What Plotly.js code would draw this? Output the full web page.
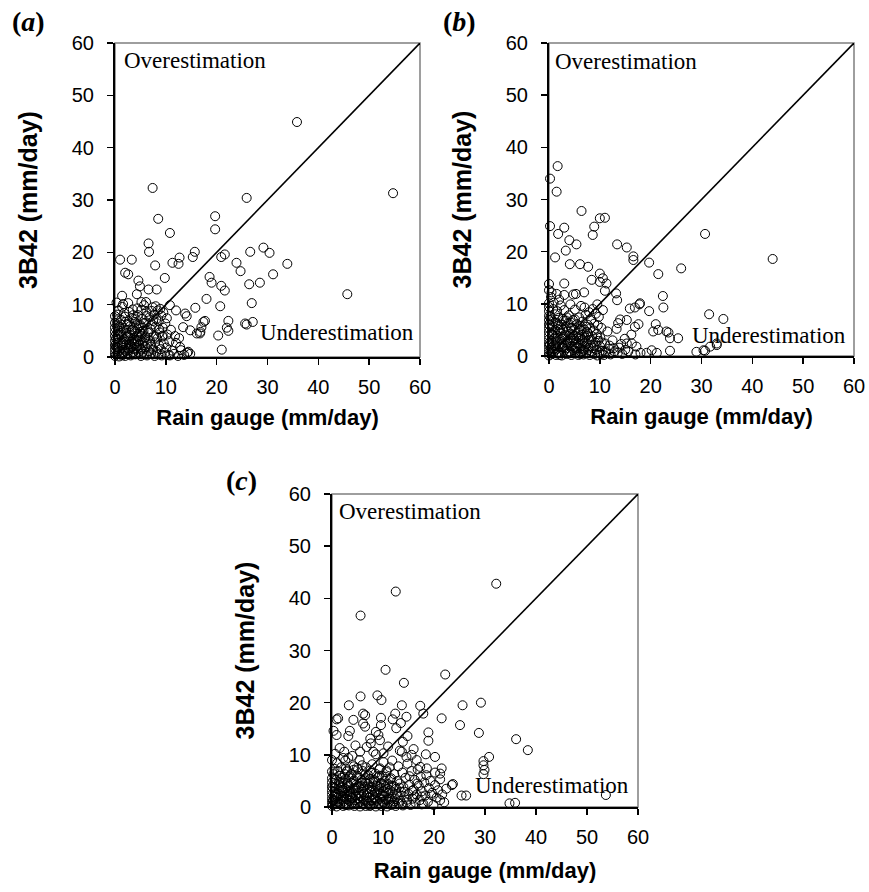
<!DOCTYPE html>
<html>
<head>
<meta charset="utf-8">
<script src="https://cdn.plot.ly/plotly-3.0.1.min.js"></script>
<style>html,body{margin:0;padding:0;background:#fff;}#chart{width:869px;height:892px;}</style>
</head>
<body>
<div id="chart"></div>
<script>
// ---------- DATA ----------
const tickValues = [0, 10, 20, 30, 40, 50, 60];
const axisRange = [0, 60];
const lineX = [0, 60];
const lineY = [0, 60];
const panelLabels = ["a", "b", "c"];
const xTitle = "Rain gauge (mm/day)";
const yTitle = "3B42 (mm/day)";
const overText = "Overestimation";
const underText = "Underestimation";

// Panel (a): rain gauge (x) vs 3B42 (y)
const gaugeA = [
 7.4,25.9,8.5,19.7,19.7,10.8,6.6,6.7,15.7,15.3,
 12.7,12.5,11.3,7.9,1.0,3.3,20.9,21.6,23.9,24.7,
 26.6,29.2,30.4,33.9,31.1,28.5,26.4,26.9,18.6,19.0,
 20.9,21.6,18.0,20.7,15.8,9.8,8.2,6.6,4.6,4.9,
 4.3,2.0,2.6,1.4,0.3,1.6,5.2,6.1,10.8,12.0,
 13.8,14.1,17.7,22.3,22.0,22.3,25.6,25.9,27.1,20.3,
 21.0,17.0,16.1,14.8,16.7,13.4,14.8,14.4,12.8,10.8,
 54.7,45.7,35.8,17.4,16.8,
 0,0,0,0,0,0,0,0,0,0,
 0.3,0.4,0.5,0.6,0.4,0.8,0.9,1.0,1.1,1.2,
 1.3,1.5,1.6,1.7,1.8,2.0,2.1,2.2,2.3,2.4,
 2.5,2.7,2.8,2.9,3.0,3.1,3.2,3.3,3.4,3.5,
 3.6,3.7,3.8,3.9,4.0,4.1,4.2,4.3,4.4,4.5,
 4.6,4.8,4.9,5.0,5.1,5.2,5.3,5.4,5.5,5.6,
 5.8,5.9,6.0,6.1,6.2,6.3,6.4,6.5,6.7,6.8,
 6.9,7.0,7.1,7.2,7.3,7.4,7.5,7.6,7.7,7.8,
 7.9,8.0,8.1,8.2,8.3,8.4,8.5,8.6,8.7,8.8,
 8.9,9.0,9.1,9.2,9.3,9.4,9.5,9.6,9.8,9.9,
 10.1,10.3,10.5,10.7,11.0,11.3,11.6,12.0,12.4,13.0,
 13.6,14.2,11.8,12.6,10.2,1.4,0.7,2.6,5.7,8.0
];
const satA = [
 32.3,30.4,26.4,26.9,24.4,23.7,21.7,20.1,20.1,19.1,
 19.0,17.8,18.0,17.5,18.6,18.6,19.1,19.6,18.0,16.4,
 20.1,20.9,19.9,17.8,15.8,14.2,13.9,10.3,15.3,14.2,
 13.6,12.7,11.1,9.7,9.4,15.1,12.9,12.9,14.6,13.5,
 12.0,16.1,15.8,11.7,10.4,10.1,10.5,10.5,9.9,8.9,
 8.3,7.8,6.9,6.9,5.6,5.0,6.4,6.2,6.7,4.1,
 1.4,5.7,4.5,5.1,4.5,5.7,0.6,1.0,1.9,0.3,
 31.3,12.0,44.9,6.7,4.8,
 0.2,0.8,1.5,2.3,3.1,4.0,4.8,5.6,6.5,7.8,
 0.5,1.9,3.4,5.1,6.0,0.1,1.2,2.6,4.2,7.1,
 0.6,1.8,3.0,5.5,8.4,0.2,1.1,2.4,3.8,6.3,
 0.7,1.6,3.2,4.6,5.9,0.3,2.0,2.9,7.4,9.1,
 1.0,3.6,4.9,6.7,0.5,1.7,2.6,4.1,5.4,8.0,
 0.9,2.2,3.3,6.1,0.2,1.4,4.4,7.3,2.8,5.0,
 0.6,3.7,1.9,6.6,8.6,0.3,2.5,4.6,1.1,7.6,
 3.1,5.3,0.7,2.0,6.2,9.5,1.4,4.0,8.1,0.2,
 2.8,5.8,7.2,1.0,3.5,8.9,0.5,6.8,2.2,4.7,
 9.2,1.5,7.9,0.3,3.9,5.6,8.5,2.6,0.8,6.4,
 1.8,4.3,0.4,3.0,5.2,1.2,0.6,2.7,0.2,1.3,
 0.4,0.8,4.0,3.6,7.4,9.6,8.9,10.3,9.9,9.7
];
// Panel (a): dense core near the origin
const gaugeCoreA = [
 0.2,0.6,1.0,1.4,1.8,2.2,2.6,3.0,3.4,3.8,
 4.2,4.6,5.0,5.4,5.8,0.1,0.5,0.9,1.3,1.7,
 2.1,2.5,2.9,3.3,3.7,4.1,4.5,4.9,5.3,5.7,
 0.3,0.7,1.1,1.5,1.9,2.3,2.7,3.1,3.5,3.9,
 4.3,4.7,5.1,5.5,6.0,6.6,7.0,7.5,8.1,8.7,
 0.4,1.2,2.0,2.8,3.6,4.4,5.2,6.2,7.2,9.4
];
const satCoreA = [
 3.5,2.7,4.6,0.3,3.4,5.2,1.2,4.1,0.9,2.4,
 6.1,3.9,1.6,5.6,3.1,2.0,4.3,5.8,2.2,0.9,
 6.7,3.9,2.4,5.1,1.5,7.2,3.0,4.8,0.7,6.5,
 7.0,3.9,5.0,2.7,1.4,4.5,6.8,1.7,5.3,3.2,
 2.0,6.0,4.0,1.0,3.8,4.9,2.4,6.9,3.9,5.3,
 8.1,6.2,7.7,8.6,8.0,9.3,9.0,7.9,8.8,4.1
];

// Panel (b)
const gaugeB = [
 1.7,0.2,1.5,6.4,10.0,11.0,8.9,8.6,0.2,3.0,
 1.8,4.0,5.4,3.3,1.2,4.1,6.1,7.7,13.4,15.3,
 16.6,16.6,19.7,21.5,26.0,30.7,10.0,10.6,11.3,10.0,
 8.4,3.0,0,0,0.5,1.5,3.0,4.8,5.3,6.9,
 11.0,13.2,13.4,22.4,22.5,17.9,15.9,16.9,19.7,0,
 0.9,9.5,14.0,13.6,21.0,23.1,23.8,25.4,30.4,29.0,
 23.8,21.2,19.2,17.2,15.3,44.0,31.5,34.3,23.5,33.0,
 31.7,33.0,30.7,16.3,18.0,20.2,21.5,20.5,17.6,16.9,
 15.3,17.8,
 0,0,0,0,0,0,0,0,0,0,
 0,0,0,0,0.3,0.4,0.5,0.6,0.7,0.5,
 0.9,1.0,1.1,1.2,1.3,1.4,1.5,1.6,1.7,1.8,
 1.9,2.0,2.1,2.2,2.3,2.4,2.5,2.6,2.7,2.8,
 2.9,3.0,3.1,3.2,3.3,3.4,3.5,3.6,3.7,3.8,
 3.9,4.0,4.1,4.2,4.3,4.4,4.5,4.6,4.7,4.8,
 4.9,5.0,5.2,5.3,5.4,5.5,5.6,5.7,5.8,5.9,
 6.0,6.1,6.2,6.3,6.4,6.5,6.6,6.7,6.8,6.9,
 7.0,7.1,7.2,7.3,7.4,7.5,7.6,7.7,7.8,7.9,
 8.0,8.1,8.2,8.3,8.4,8.5,8.6,8.7,8.8,8.9,
 9.0,9.1,9.2,9.3,9.4,9.5,9.6,9.7,9.8,9.9,
 10.0,10.1,10.2,10.3,10.5,10.6,10.8,11.0,11.2,11.5,
 11.8,12.1,12.5,12.9,13.3,13.8,14.4,14.9,15.6,16.2,
 0.8,1.6,2.3,3.0,4.2,5.1,6.3,7.0,0.4,2.0
];
const satB = [
 36.4,34.0,31.5,27.8,26.4,26.5,24.8,23.2,24.9,24.6,
 23.4,22.2,21.4,20.2,18.9,17.6,17.6,17.1,21.4,20.8,
 19.1,18.4,17.9,15.7,16.8,23.4,15.8,14.9,13.9,14.2,
 14.6,13.9,13.8,12.6,12.2,11.9,11.7,11.8,11.9,12.2,
 12.5,12.0,10.7,11.5,9.3,10.1,9.1,9.3,8.6,10.1,
 10.2,9.9,7.0,6.3,6.1,4.7,3.4,3.4,1.1,0.8,
 1.0,0.6,0.6,1.8,2.4,18.6,8.0,7.1,4.5,2.1,
 1.8,2.4,1.0,2.4,0.6,1.1,5.0,4.7,6.1,5.6,
 6.9,9.9,
 0.1,0.6,1.2,1.9,2.5,3.2,3.9,4.6,5.3,6.1,
 6.9,7.7,8.6,9.4,0.3,1.5,2.8,4.2,5.7,7.0,
 0.8,2.1,3.5,4.9,6.4,0.2,1.3,2.6,3.9,5.2,
 7.3,0.6,1.8,3.1,4.4,6.0,0.1,2.3,3.6,5.0,
 6.8,1.0,2.0,4.0,5.6,0.4,1.5,2.9,4.7,6.3,
 7.8,0.9,2.4,3.4,5.4,0.2,1.9,4.1,6.9,3.0,
 1.1,5.0,0.5,2.6,3.8,6.1,1.6,4.5,0.2,7.4,
 2.1,3.3,5.7,0.8,1.4,4.0,6.6,2.8,0.3,5.1,
 1.8,3.6,7.9,0.6,2.4,4.6,6.0,1.1,3.1,8.4,
 0.2,5.3,2.0,7.0,0.9,3.8,9.0,1.5,4.9,6.2,
 0.4,2.6,8.1,1.2,4.2,0.1,5.9,2.9,7.5,0.7,
 1.9,3.5,0.3,5.4,1.0,8.8,0.2,2.4,0.6,4.7,
 1.4,0.3,3.0,0.9,5.2,1.6,0.4,3.3,0.9,4.1,
 9.0,8.6,9.7,8.8,9.9,8.9,9.6,9.3,11.3,10.8
];
const gaugeCoreB = [
 0.2,0.6,1.0,1.4,1.8,2.2,2.6,3.0,3.4,3.8,
 4.2,4.6,5.0,5.4,5.8,6.2,6.6,7.0,7.4,7.8,
 0.1,0.5,0.9,1.3,1.7,2.1,2.5,2.9,3.3,3.7,
 4.1,4.5,4.9,5.3,5.7,6.1,6.5,6.9,7.3,7.7,
 0.3,0.8,1.2,1.9,2.7,3.5,4.3,5.1,5.9,8.3,
 8.9,9.5,10.4,11.1,11.9,12.7,13.5,14.2,15.0,17.0
];
const satCoreB = [
 2.2,4.0,1.4,3.3,0.6,5.0,1.7,3.7,2.4,0.5,
 4.3,2.9,1.8,0.8,3.6,4.9,0.9,2.6,3.9,1.6,
 5.9,0.9,4.5,2.0,6.2,0.2,3.3,1.5,6.8,2.6,
 0.7,5.3,3.3,1.4,2.4,0.4,3.1,1.2,5.6,4.3,
 7.6,6.6,8.0,5.9,7.1,7.4,6.4,7.0,5.2,3.1,
 1.9,3.6,2.6,0.9,2.0,1.5,0.6,2.3,1.2,0.3
];

// Panel (c)
const gaugeC = [
 12.5,5.6,32.2,10.5,22.2,14.1,5.6,8.9,9.7,3.3,
 13.7,17.3,17.9,6.1,6.5,12.4,14.6,1.2,0.9,4.2,
 9.6,11.9,13.5,6.1,6.5,9.6,12.6,21.5,25.6,29.2,
 25.1,28.8,36.1,0.3,0.9,3.5,3.2,8.6,9.1,9.4,
 7.5,14.8,18.9,18.9,13.9,13.7,2.2,3.2,5.5,5.4,
 8.1,8.6,10.1,13.3,14.6,15.6,16.6,18.4,20.2,30.8,
 29.7,29.9,29.7,9.4,10.7,17.3,18.6,20.2,21.5,21.2,
 0,2.9,4.2,23.7,25.4,26.3,34.8,35.9,53.7,38.4,
 17.6,19.5,21.2,17.6,23.5,29.7,
 0,0,0,0,0,0,0,0,0.2,0.3,
 0.4,0.5,0.6,0.7,0.8,0.9,1.0,1.1,1.2,1.3,
 1.4,1.5,1.6,1.7,1.8,1.9,2.0,2.1,2.2,2.3,
 2.4,2.5,2.6,2.7,2.8,2.9,3.0,3.1,3.2,3.3,
 3.4,3.5,3.6,3.7,3.8,3.9,4.0,4.1,4.2,4.3,
 4.4,4.5,4.6,4.7,4.8,4.9,5.0,5.1,5.2,5.3,
 5.4,5.5,5.6,5.7,5.8,5.9,6.0,6.1,6.2,6.3,
 6.4,6.5,6.6,6.7,6.8,6.9,7.0,7.1,7.2,7.3,
 7.4,7.5,7.6,7.7,7.8,7.9,8.0,8.1,8.2,8.3,
 8.4,8.5,8.6,8.7,8.8,8.9,9.0,9.1,9.2,9.3,
 9.4,9.5,9.6,9.7,9.8,9.9,10.0,10.1,10.2,10.3,
 10.4,10.5,10.6,10.7,10.8,10.9,11.0,11.2,11.3,11.4,
 11.5,11.6,11.7,11.8,11.9,12.0,12.1,12.2,12.3,12.5,
 12.6,12.8,12.9,13.0,13.1,13.3,13.4,13.6,13.8,13.9,
 14.0,14.2,14.4,14.6,14.8,15.0,15.2,15.4,15.6,15.8,
 16.0,16.2,16.4,16.6,16.8,17.0,17.2,17.4,17.6,17.9,
 18.1,18.3,18.5,18.8,19.0,19.3,19.6,19.9,20.2,20.5,
 20.8,21.2,21.6,22.0,22.4,0.5,1.0,1.8,2.6,3.0,
 0,0.6,1.5,2.4,4.0,4.6,6.8,7.6,11.0,16.0
];
const satC = [
 41.3,36.7,42.8,26.3,25.4,23.8,21.2,21.4,20.5,19.5,
 19.5,19.4,17.9,17.9,17.6,17.9,17.3,17.0,16.8,16.7,
 17.1,16.8,16.1,16.0,15.4,15.7,15.1,17.0,19.5,20.0,
 15.7,14.2,13.0,14.6,13.8,14.6,13.6,14.4,13.8,12.8,
 13.1,13.6,14.3,12.7,12.5,10.6,9.4,9.4,10.6,9.0,
 10.6,10.1,10.3,10.8,9.6,10.0,9.0,10.1,9.6,9.6,
 8.0,7.1,6.3,7.4,7.0,7.7,7.4,6.6,7.4,6.4,
 6.8,6.8,7.1,4.4,2.2,2.2,0.7,0.8,2.3,10.9,
 2.0,2.3,1.3,0.5,4.2,8.8,
 0.2,0.9,1.6,2.4,3.1,3.9,4.7,5.5,0.5,1.3,
 2.0,2.9,3.6,4.4,5.2,0.1,1.0,1.8,2.6,3.4,
 4.2,6.0,0.5,1.4,2.2,3.0,3.8,4.9,0.2,1.1,
 1.9,2.7,3.5,5.4,0.7,1.5,2.3,3.2,4.1,0.3,
 1.2,2.0,2.9,4.6,6.3,0.8,1.7,2.6,3.6,5.1,
 0.2,1.3,2.2,3.1,4.3,7.5,0.6,1.6,2.7,3.8,
 5.6,0.1,1.0,2.0,3.3,4.6,6.9,0.5,1.5,2.5,
 3.9,5.1,0.2,1.2,2.2,3.4,4.4,6.1,0.7,1.8,
 2.9,5.4,0.3,1.3,3.9,8.2,2.3,4.8,0.8,1.9,
 3.0,6.4,0.1,2.6,4.1,1.2,5.7,0.5,3.4,7.2,
 1.6,2.5,4.6,0.2,6.0,1.0,3.0,8.6,2.0,5.0,
 0.6,3.8,1.4,6.7,0.1,2.6,4.4,1.0,7.6,3.2,
 0.4,5.5,1.9,8.9,2.8,0.8,4.0,6.3,1.5,0.2,
 3.5,5.0,2.2,7.8,0.7,4.5,1.2,2.9,6.6,0.3,
 3.8,1.9,5.6,0.9,8.3,2.5,4.3,0.4,6.9,1.6,
 3.3,5.2,0.8,2.4,7.2,4.1,1.3,5.8,3.0,0.6,
 4.7,2.2,6.1,1.0,3.6,5.0,2.7,0.4,4.2,1.8,
 3.2,5.3,2.4,0.9,3.5,7.3,8.4,7.6,8.9,7.0,
 9.0,10.2,11.3,10.6,9.8,11.8,11.5,12.2,11.6,11.1
];
const gaugeCoreC = [
 0.2,0.6,1.0,1.4,1.8,2.2,2.6,3.0,3.4,3.8,
 4.2,4.6,5.0,5.4,5.8,6.2,6.6,7.0,7.4,7.8,
 8.2,8.6,9.0,9.4,9.8,10.2,10.6,11.0,11.4,11.8,
 0.1,0.5,0.9,1.3,1.7,2.1,2.5,2.9,3.3,3.7,
 4.1,4.5,4.9,5.3,5.7,6.1,6.5,6.9,7.3,7.7,
 8.1,8.5,8.9,9.3,9.7,10.1,10.5,10.9,11.3,11.7,
 12.2,12.7,13.2,13.7,14.2,14.7,15.2,15.7,16.2,16.7,
 0.3,1.1,1.9,2.7,3.5,4.3,5.1,5.9,6.7,7.5
];
const satCoreC = [
 1.2,2.5,0.6,4.8,3.7,1.4,0.4,4.6,3.0,1.8,
 4.9,0.7,3.6,2.1,5.2,1.2,4.7,2.6,0.2,3.3,
 5.2,1.6,3.9,0.7,2.2,4.1,2.8,1.4,5.3,0.5,
 3.8,5.4,2.3,0.9,4.6,3.3,6.3,0.4,5.7,2.4,
 0.5,3.6,6.0,0.9,4.0,2.9,6.2,1.0,4.7,6.6,
 1.3,4.9,2.8,6.0,3.7,0.9,5.8,3.5,1.6,4.1,
 1.1,2.5,3.7,0.7,2.9,1.4,5.9,3.1,2.0,4.5,
 6.3,6.9,5.6,7.4,6.0,7.8,7.2,8.0,7.6,7.0
];

// ---------- CHART ----------
const panels = [
  {x: gaugeA.concat(gaugeCoreA), y: satA.concat(satCoreA), xa: "x",  ya: "y",
   xd: [115/869, 420/869], yd: [1-357/892, 1-43/892]},
  {x: gaugeB.concat(gaugeCoreB), y: satB.concat(satCoreB), xa: "x2", ya: "y2",
   xd: [549/869, 854/869], yd: [1-356/892, 1-43/892]},
  {x: gaugeC.concat(gaugeCoreC), y: satC.concat(satCoreC), xa: "x3", ya: "y3",
   xd: [332/869, 638/869], yd: [1-807/892, 1-494/892]}
];

const sans = "Liberation Sans, Arial, sans-serif";
const serif = "Liberation Serif, Times New Roman, serif";
const tickFont = {family: sans, size: 20, color: "#000"};
const serifFont = {family: serif, size: 23, color: "#000"};

const traces = [];
const layout = {
  width: 869, height: 892,
  margin: {l: 0, r: 0, t: 0, b: 0},
  paper_bgcolor: "#fff", plot_bgcolor: "#fff",
  showlegend: false,
  shapes: [], annotations: []
};

function axisBase(domain, anchor, titleText, titleSize, standoff, labelGap) {
  return {
    domain: domain, anchor: anchor, range: axisRange,
    tickmode: "array", tickvals: tickValues, ticktext: tickValues.map(String),
    ticks: "outside", ticklen: 6, tickwidth: 1.5, tickcolor: "#000",
    ticklabelstandoff: labelGap,
    showline: true, linecolor: "#000", linewidth: 2,
    showgrid: false, zeroline: false, fixedrange: true,
    tickfont: tickFont,
    title: {text: "<b>" + titleText + "</b>",
            font: {family: sans, size: titleSize, color: "#000"}, standoff: standoff}
  };
}

const panelLabelPos = [[29, 21], [459, 21], [241, 481]];
const overPos = [[1.3, 56.6], [0.8, 56.4], [0.9, 56.6]];
const underPos = [[59.3, 4.6], [58.9, 4.0], [58.6, 4.2]];
const xStandoff = [13, 13, 16];

panels.forEach((p, i) => {
  const sfx = i === 0 ? "" : String(i + 1);
  layout["xaxis" + sfx] = axisBase(p.xd, p.ya, xTitle, 22, xStandoff[i], 5);
  layout["yaxis" + sfx] = axisBase(p.yd, p.xa, yTitle, 25, 27, 9);
  layout.shapes.push({type: "rect", xref: p.xa + " domain", yref: p.ya + " domain",
    x0: 0, x1: 1, y0: 0, y1: 1, line: {color: "#7f7f7f", width: 1.5}, layer: "below"});
  traces.push({type: "scatter", mode: "lines", x: lineX, y: lineY, xaxis: p.xa, yaxis: p.ya,
    line: {color: "#000", width: 1.6}, hoverinfo: "skip", cliponaxis: false});
  traces.push({type: "scatter", mode: "markers", x: p.x, y: p.y, xaxis: p.xa, yaxis: p.ya,
    cliponaxis: false,
    marker: {symbol: "circle-open", size: 9, color: "#000", line: {width: 1, color: "#000"}}});
  layout.annotations.push({xref: p.xa, yref: p.ya, x: overPos[i][0], y: overPos[i][1],
    xanchor: "left", yanchor: "middle", text: overText, showarrow: false, font: serifFont});
  layout.annotations.push({xref: p.xa, yref: p.ya, x: underPos[i][0], y: underPos[i][1],
    xanchor: "right", yanchor: "middle", text: underText, showarrow: false, font: serifFont});
  layout.annotations.push({xref: "paper", yref: "paper",
    x: panelLabelPos[i][0] / 869, y: 1 - panelLabelPos[i][1] / 892,
    xanchor: "center", yanchor: "middle", showarrow: false,
    text: "<b>(<i>" + panelLabels[i] + "</i>)</b>",
    font: {family: serif, size: 28, color: "#000"}});
});

Plotly.newPlot("chart", traces, layout, {staticPlot: true, displayModeBar: false});
</script>
</body>
</html>
